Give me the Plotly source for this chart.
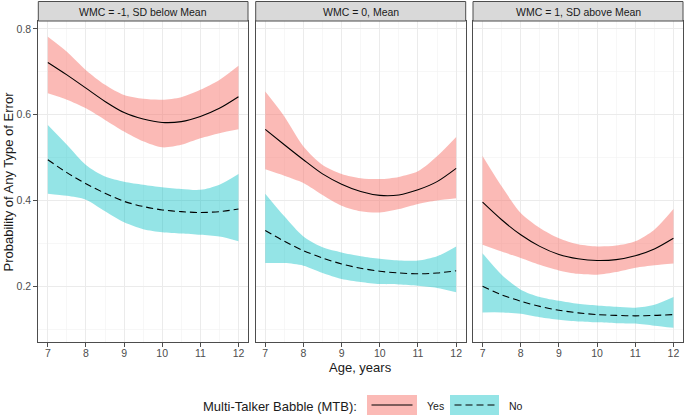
import plotly.graph_objects as go

# ---------------- data ----------------
ages = [7, 7.5, 8, 8.5, 9, 9.5, 10, 10.5, 11, 11.5, 12]
x_ticks = [7, 8, 9, 10, 11, 12]
y_ticks = [0.2, 0.4, 0.6, 0.8]
y_tick_labels = ["0.2", "0.4", "0.6", "0.8"]
panel_labels = ["WMC = -1, SD below Mean", "WMC = 0, Mean", "WMC = 1, SD above Mean"]
group_labels = ["Yes", "No"]

# WMC = -1 SD
yes_fit_low = [0.722, 0.693, 0.662, 0.631, 0.605, 0.590, 0.582, 0.584, 0.596, 0.615, 0.642]
yes_lo_low = [0.650, 0.635, 0.615, 0.588, 0.561, 0.538, 0.524, 0.530, 0.545, 0.557, 0.566]
yes_hi_low = [0.782, 0.747, 0.704, 0.670, 0.646, 0.637, 0.635, 0.641, 0.658, 0.681, 0.714]
no_fit_low = [0.495, 0.465, 0.439, 0.417, 0.398, 0.386, 0.378, 0.374, 0.372, 0.374, 0.380]
no_lo_low = [0.416, 0.411, 0.402, 0.375, 0.349, 0.333, 0.326, 0.323, 0.320, 0.316, 0.305]
no_hi_low = [0.576, 0.530, 0.483, 0.456, 0.444, 0.437, 0.431, 0.427, 0.425, 0.437, 0.462]

# WMC = 0 (mean)
yes_fit_mean = [0.566, 0.530, 0.495, 0.462, 0.438, 0.421, 0.412, 0.413, 0.425, 0.444, 0.475]
yes_lo_mean = [0.473, 0.458, 0.441, 0.413, 0.388, 0.375, 0.372, 0.380, 0.392, 0.400, 0.405]
yes_hi_mean = [0.654, 0.596, 0.526, 0.483, 0.462, 0.452, 0.450, 0.455, 0.468, 0.503, 0.548]
no_fit_mean = [0.330, 0.305, 0.283, 0.266, 0.252, 0.242, 0.235, 0.231, 0.229, 0.231, 0.236]
no_lo_mean = [0.254, 0.254, 0.248, 0.231, 0.217, 0.210, 0.205, 0.204, 0.201, 0.196, 0.186]
no_hi_mean = [0.416, 0.363, 0.316, 0.291, 0.279, 0.270, 0.264, 0.260, 0.260, 0.270, 0.293]

# WMC = +1 SD
yes_fit_high = [0.396, 0.355, 0.320, 0.293, 0.274, 0.264, 0.260, 0.262, 0.271, 0.287, 0.312]
yes_lo_high = [0.297, 0.281, 0.266, 0.250, 0.237, 0.229, 0.227, 0.233, 0.243, 0.249, 0.253]
yes_hi_high = [0.504, 0.433, 0.371, 0.336, 0.312, 0.298, 0.293, 0.295, 0.305, 0.332, 0.380]
no_fit_high = [0.200, 0.180, 0.165, 0.153, 0.144, 0.138, 0.134, 0.132, 0.131, 0.132, 0.134]
no_lo_high = [0.139, 0.139, 0.136, 0.128, 0.122, 0.118, 0.116, 0.114, 0.113, 0.108, 0.103]
no_hi_high = [0.277, 0.227, 0.192, 0.175, 0.166, 0.159, 0.155, 0.152, 0.150, 0.157, 0.175]

panels = [
    (yes_fit_low, yes_lo_low, yes_hi_low, no_fit_low, no_lo_low, no_hi_low),
    (yes_fit_mean, yes_lo_mean, yes_hi_mean, no_fit_mean, no_lo_mean, no_hi_mean),
    (yes_fit_high, yes_lo_high, yes_hi_high, no_fit_high, no_lo_high, no_hi_high),
]

# ---------------- styling ----------------
W, H = 685, 416
FONT = "Liberation Sans, Arial, Helvetica, sans-serif"
PINK_FILL = "rgba(248,118,109,0.5)"
CYAN_FILL = "rgba(0,191,196,0.42)"
BORDER = "#4D4D4D"
GRID = "#EBEBEB"
DASH = "7px,4px"


def fx(p):
    return p / W


def fy(p):
    return 1 - p / H


panel_px = [(38.3, 248.0), (255.7, 465.7), (473.0, 683.0)]
plot_top, plot_bot, strip_top = 21.0, 342.0, 1.5

fig = go.Figure()

for i, (yf, yl, yh, nf, nl, nh) in enumerate(panels):
    xa = "x" if i == 0 else f"x{i+1}"
    ya = "y" if i == 0 else f"y{i+1}"
    for lo, hi, fill in ((yl, yh, PINK_FILL), (nl, nh, CYAN_FILL)):
        fig.add_trace(go.Scatter(x=ages, y=lo, xaxis=xa, yaxis=ya, mode="lines",
                                 line=dict(width=0, shape="spline", smoothing=0.8),
                                 hoverinfo="skip", showlegend=False))
        fig.add_trace(go.Scatter(x=ages, y=hi, xaxis=xa, yaxis=ya, mode="lines",
                                 line=dict(width=0, shape="spline", smoothing=0.8),
                                 fill="tonexty", fillcolor=fill,
                                 hoverinfo="skip", showlegend=False))
    fig.add_trace(go.Scatter(x=ages, y=yf, xaxis=xa, yaxis=ya, mode="lines", name=group_labels[0],
                             line=dict(color="black", width=1.1, shape="spline", smoothing=0.8),
                             showlegend=False))
    fig.add_trace(go.Scatter(x=ages, y=nf, xaxis=xa, yaxis=ya, mode="lines", name=group_labels[1],
                             line=dict(color="black", width=1.1, dash=DASH, shape="spline", smoothing=0.8),
                             showlegend=False))

layout = dict(
    width=W, height=H,
    margin=dict(l=0, r=0, t=0, b=0),
    paper_bgcolor="white", plot_bgcolor="white",
    font=dict(family=FONT, color="#1A1A1A"),
    showlegend=False,
)

shapes = []
annotations = []
for i, (l, r) in enumerate(panel_px):
    sfx = "" if i == 0 else str(i + 1)
    layout[f"xaxis{sfx}"] = dict(
        domain=[fx(l), fx(r)], range=[6.75, 12.25], anchor="y" + sfx,
        tickmode="array", tickvals=x_ticks, ticktext=[str(v) for v in x_ticks],
        ticks="outside", ticklen=4, tickwidth=1, tickcolor=BORDER,
        ticklabelstandoff=-3,
        tickfont=dict(size=10.5, color="#4D4D4D", family=FONT),
        showgrid=True, gridcolor=GRID, gridwidth=1,
        minor=dict(tickmode="array", tickvals=[7.5, 8.5, 9.5, 10.5, 11.5],
                   showgrid=True, gridcolor="#F2F2F2", gridwidth=0.6),
        showline=True, mirror=True, linecolor=BORDER, linewidth=1, zeroline=False,
        fixedrange=True,
    )
    yax = dict(
        domain=[fy(plot_bot), fy(plot_top)], range=[0.07, 0.8186], anchor="x" + sfx,
        tickmode="array", tickvals=y_ticks, ticktext=y_tick_labels,
        showgrid=True, gridcolor=GRID, gridwidth=1,
        minor=dict(tickmode="array", tickvals=[0.1, 0.3, 0.5, 0.7],
                   showgrid=True, gridcolor="#F2F2F2", gridwidth=0.6),
        showline=True, mirror=True, linecolor=BORDER, linewidth=1, zeroline=False,
        fixedrange=True,
    )
    if i == 0:
        yax.update(ticks="outside", ticklen=4, tickwidth=1, tickcolor=BORDER,
                   tickfont=dict(size=10.5, color="#4D4D4D", family=FONT))
    else:
        yax.update(ticks="", showticklabels=False, matches="y")
    layout[f"yaxis{sfx}"] = yax

    # facet strip
    shapes.append(dict(type="rect", xref="paper", yref="paper",
                       x0=fx(l), x1=fx(r), y0=fy(plot_top), y1=fy(strip_top),
                       fillcolor="#D9D9D9", line=dict(color=BORDER, width=1), layer="above"))
    annotations.append(dict(text=panel_labels[i], xref="paper", yref="paper",
                            x=fx((l + r) / 2), y=fy((plot_top + strip_top) / 2 + 0.3),
                            xanchor="center", yanchor="middle", showarrow=False,
                            font=dict(size=10.5, color="#1A1A1A", family=FONT)))

# axis titles
annotations.append(dict(text="Age, years", xref="paper", yref="paper",
                        x=fx(360.7), y=fy(367.5), xanchor="center", yanchor="middle",
                        showarrow=False, font=dict(size=13, color="#1A1A1A", family=FONT)))
annotations.append(dict(text="Probability of Any Type of Error", xref="paper", yref="paper",
                        x=fx(8), y=fy(181.5), xanchor="center", yanchor="middle",
                        textangle=-90, showarrow=False,
                        font=dict(size=13, color="#1A1A1A", family=FONT)))

# legend (bottom)
annotations.append(dict(text="Multi-Talker Babble (MTB):", xref="paper", yref="paper",
                        x=fx(358.5), y=fy(406), xanchor="right", yanchor="middle",
                        showarrow=False, font=dict(size=13, color="#1A1A1A", family=FONT)))
key_y0, key_y1, key_mid = 395.0, 415.0, 405.0
for (k0, k1), fill, dash, lab, tx in (((367.0, 417.0), PINK_FILL, "solid", group_labels[0], 425.0),
                                      ((450.0, 499.0), CYAN_FILL, DASH, group_labels[1], 507.0)):
    shapes.append(dict(type="rect", xref="paper", yref="paper",
                       x0=fx(k0), x1=fx(k1), y0=fy(key_y1), y1=fy(key_y0),
                       fillcolor=fill, line=dict(width=0)))
    shapes.append(dict(type="line", xref="paper", yref="paper",
                       x0=fx(k0 + 4.5), x1=fx(k1 - 4.5), y0=fy(key_mid), y1=fy(key_mid),
                       line=dict(color="black", width=1.1, dash=dash)))
    annotations.append(dict(text=lab, xref="paper", yref="paper",
                            x=fx(tx), y=fy(406), xanchor="left", yanchor="middle",
                            showarrow=False, font=dict(size=10.5, color="#1A1A1A", family=FONT)))

layout["shapes"] = shapes
layout["annotations"] = annotations
fig.update_layout(**layout)

# remove the default page margin so the figure fills the window exactly
fig.write_html("out.html",
               config={"displayModeBar": False, "staticPlot": True},
               post_script="document.body.style.margin='0';document.body.style.overflow='hidden';")
